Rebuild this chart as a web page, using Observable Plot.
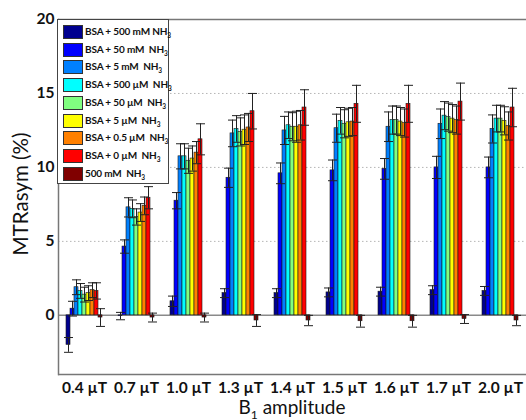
<!DOCTYPE html>
<html>
<head>
<meta charset="utf-8">
<script src="https://cdn.jsdelivr.net/npm/d3@7"></script>
<script src="https://cdn.jsdelivr.net/npm/@observablehq/plot@0.6"></script>
<style>
  body { margin: 0; background: #fff; }
  #wrap { position: relative; width: 526px; height: 420px; font-family: Lato, "Open Sans", sans-serif; color: #111; }
  #wrap svg { position: absolute; left: 0; top: 0; }
  .ytitle { position: absolute; left: 20px; top: 194px; transform: translate(-50%, -50%) rotate(-90deg); font-size: 20.5px; white-space: nowrap; }
  .xtitle { position: absolute; left: 292px; top: 408px; transform: translate(-50%, -50%); font-size: 19px; white-space: nowrap; }
  .xtitle sub { font-size: 12px; vertical-align: -5px; }
  .legend { position: absolute; left: 57px; top: 19px; width: 110px; height: 163px; border: 1px solid #444; background: #fff; box-sizing: content-box; }
  .legend .row { position: absolute; left: 5px; height: 14px; display: flex; align-items: center; }
  .legend .sw { width: 18px; height: 12px; border: 1px solid #333; margin-right: 2px; flex: none; }
  .legend .lab { font-size: 10px; font-weight: bold; white-space: pre; letter-spacing: -0.15px; }
  .legend .lab sub { font-size: 6.5px; vertical-align: -3px; }
</style>
</head>
<body>
<div id="wrap"></div>
<script>
// B1 amplitudes (one bar group each)
const groups = ["0.4 µT", "0.7 µT", "1.0 µT", "1.3 µT", "1.4 µT", "1.5 µT", "1.6 µT", "1.7 µT", "2.0 µT"];

// Sample series, in bar order within a group
const seriesNames = [
  "BSA + 500 mM NH<sub>3</sub>",
  "BSA + 50 mM  NH<sub>3</sub>",
  "BSA + 5 mM  NH<sub>3</sub>",
  "BSA + 500 µM  NH<sub>3</sub>",
  "BSA + 50 µM  NH<sub>3</sub>",
  "BSA + 5 µM  NH<sub>3</sub>",
  "BSA + 0.5 µM  NH<sub>3</sub>",
  "BSA + 0 µM  NH<sub>3</sub>",
  "500 mM  NH<sub>3</sub>"
];
const seriesColors = ["#00008F", "#0000FF", "#0080FF", "#00FFFF", "#80FF80", "#FFFF00", "#FF8000", "#FF0000", "#800000"];

// MTRasym (%) per series, one value per B1 amplitude
const bsa500mM = [-2.0, -0.05, 0.95, 1.5, 1.5, 1.55, 1.6, 1.7, 1.65];
const bsa50mM  = [0.45, 4.65, 7.75, 9.3, 9.6, 9.8, 9.9, 10.0, 10.0];
const bsa5mM   = [1.9, 7.3, 10.75, 12.3, 12.5, 12.65, 12.75, 12.95, 12.6];
const bsa500uM = [1.65, 7.2, 10.75, 12.6, 12.85, 13.15, 13.2, 13.5, 13.3];
const bsa50uM  = [1.4, 6.65, 10.45, 12.4, 12.75, 12.95, 13.2, 13.4, 13.3];
const bsa5uM   = [1.5, 6.95, 10.6, 12.55, 12.75, 13.05, 13.1, 13.3, 13.15];
const bsa05uM  = [1.7, 7.4, 11.0, 12.7, 12.85, 13.1, 13.0, 13.2, 12.8];
const bsa0uM   = [1.65, 7.95, 11.9, 13.8, 14.05, 14.3, 14.3, 14.45, 14.05];
const nh3Only  = [-0.15, -0.15, -0.15, -0.35, -0.35, -0.4, -0.4, -0.25, -0.35];

// Standard deviations, same layout
const err500mM = [0.5, 0.25, 0.35, 0.3, 0.3, 0.3, 0.3, 0.3, 0.3];
const err50mM  = [0.5, 0.45, 0.55, 0.65, 0.7, 0.7, 0.7, 0.75, 0.7];
const err5mM   = [0.5, 0.65, 0.85, 0.9, 0.95, 0.95, 1.0, 1.0, 0.95];
const err500uM = [0.5, 0.6, 0.85, 0.9, 0.9, 0.9, 0.95, 0.95, 0.9];
const err50uM  = [0.5, 0.55, 0.85, 0.95, 0.95, 0.95, 0.95, 0.95, 0.9];
const err5uM   = [0.5, 0.6, 0.85, 1.0, 1.05, 0.95, 0.95, 0.95, 0.95];
const err05uM  = [0.5, 0.6, 0.75, 0.95, 1.0, 0.95, 0.95, 0.95, 0.95];
const err0uM   = [0.55, 0.75, 1.05, 1.2, 1.2, 1.25, 1.25, 1.25, 1.3];
const errNh3   = [0.6, 0.3, 0.3, 0.4, 0.35, 0.4, 0.4, 0.3, 0.35];

const yTicks = [0, 5, 10, 15, 20];
const gridValues = [5, 10, 15];

const seriesValues = [bsa500mM, bsa50mM, bsa5mM, bsa500uM, bsa50uM, bsa5uM, bsa05uM, bsa0uM, nh3Only];
const seriesErrors = [err500mM, err50mM, err5mM, err500uM, err50uM, err5uM, err05uM, err0uM, errNh3];

const rows = [];
seriesValues.forEach((vals, s) => vals.forEach((v, g) => {
  rows.push({group: groups[g], series: s, value: v, err: seriesErrors[s][g]});
}));

// horizontal line glyph for error-bar caps; half-width equals r
const capSymbol = {
  draw(context, size) {
    const r = Math.sqrt(size / Math.PI);
    context.moveTo(-r, 0);
    context.lineTo(r, 0);
  }
};

const chart = Plot.plot({
  width: 526,
  height: 420,
  marginLeft: 57,
  marginRight: 0,
  marginTop: 19,
  marginBottom: 46,
  style: {fontFamily: "Lato, 'Open Sans', sans-serif", background: "transparent", color: "#111"},
  fx: {domain: groups, paddingInner: 0, paddingOuter: 0, label: null},
  x: {domain: d3.range(seriesNames.length), paddingInner: 0, paddingOuter: 0.94, axis: null},
  y: {domain: [-4, 20], label: null},
  color: {domain: d3.range(seriesNames.length), range: seriesColors},
  marks: [
    Plot.ruleY(gridValues, {stroke: "#b5b5b5", strokeDasharray: "1.5,2.5"}),
    Plot.ruleY([0], {stroke: "#8a8a8a", strokeWidth: 1.5}),
    Plot.barY(rows, {fx: "group", x: "series", y: "value", fill: "series", stroke: "#1a1a1a", strokeWidth: 0.6}),
    Plot.ruleX(rows, {fx: "group", x: "series", y1: d => d.value - d.err, y2: d => d.value + d.err, stroke: "#222", strokeWidth: 1}),
    Plot.dot(rows, {fx: "group", x: "series", y: d => d.value + d.err, symbol: capSymbol, r: 4.5, stroke: "#222", strokeWidth: 1}),
    Plot.dot(rows, {fx: "group", x: "series", y: d => d.value - d.err, symbol: capSymbol, r: 4.5, stroke: "#222", strokeWidth: 1}),
    Plot.ruleY([-4, 20], {stroke: "#777", strokeWidth: 1.5}),
    Plot.frame({anchor: "left", facet: "super", stroke: "#777", strokeWidth: 1.5}),
    Plot.axisY({ticks: yTicks, tickSize: 0, tickPadding: 4, fontSize: 15.5, fontWeight: "bold", label: null}),
    Plot.axisFx({anchor: "bottom", tickSize: 0, tickPadding: 7, fontSize: 15.5, fontWeight: "bold", label: null})
  ]
});

const wrap = document.getElementById("wrap");
wrap.appendChild(chart);

const yTitle = document.createElement("div");
yTitle.className = "ytitle";
yTitle.textContent = "MTRasym (%)";
wrap.appendChild(yTitle);

const xTitle = document.createElement("div");
xTitle.className = "xtitle";
xTitle.innerHTML = "B<sub>1</sub> amplitude";
wrap.appendChild(xTitle);

// legend box drawn over the upper-left corner of the axes
const legend = document.createElement("div");
legend.className = "legend";
seriesNames.forEach((name, i) => {
  const row = document.createElement("div");
  row.className = "row";
  row.style.top = (5 + i * 17.7) + "px";
  row.innerHTML = `<div class="sw" style="background:${seriesColors[i]}"></div><div class="lab">${name}</div>`;
  legend.appendChild(row);
});
wrap.appendChild(legend);
</script>
</body>
</html>
